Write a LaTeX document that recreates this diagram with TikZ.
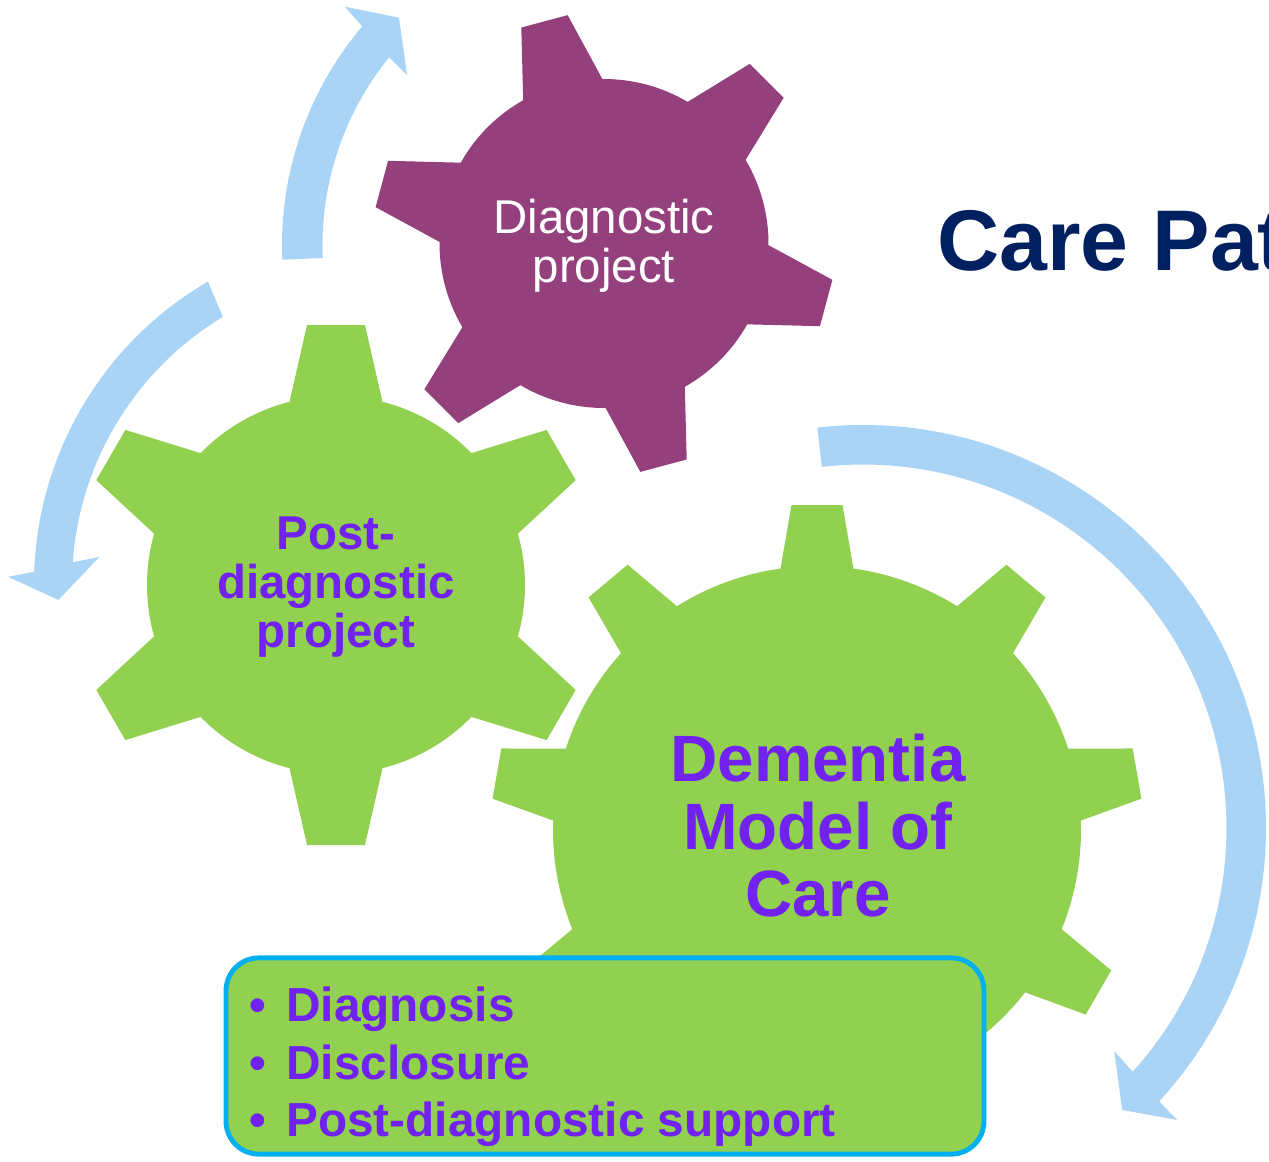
\documentclass[tikz,border=0pt]{standalone}
\usepackage{fontspec}
\setmainfont{Liberation Sans}
\definecolor{gearpurple}{HTML}{93407D}
\definecolor{geargreen}{HTML}{92D050}
\definecolor{arrowblue}{HTML}{A9D4F5}
\definecolor{textviolet}{HTML}{7122F0}
\definecolor{titlenavy}{HTML}{002060}
\definecolor{boxcyan}{HTML}{00B0F0}
% #1 fill, #2 cx, #3 cy, #4 teeth, #5 body radius, #6 tooth length, #7 tip half-width, #8 base half-width, #9 first tooth angle
\newcommand\cogwheel[9]{%
  \begin{scope}[shift={(#2,#3)},yscale=-1]
    \pgfmathsetmacro\cgstep{360/#4}
    \pgfmathsetmacro\cgdb{asin(#8/#5)}
    \pgfmathsetmacro\cgdo{atan(#7/#6)}
    \pgfmathsetmacro\cgro{veclen(#6,#7)}
    \pgfmathtruncatemacro\cglast{#4-1}
    \fill[#1] ({#9-\cgdb}:#5)
      \foreach \i in {0,...,\cglast}{
        -- ({#9+\i*\cgstep-\cgdo}:\cgro)
        -- ({#9+\i*\cgstep+\cgdo}:\cgro)
        -- ({#9+\i*\cgstep+\cgdb}:#5)
        arc[start angle={#9+\i*\cgstep+\cgdb}, end angle={#9+(\i+1)*\cgstep-\cgdb}, radius=#5]
      } -- cycle;
  \end{scope}}
\begin{document}
\begin{tikzpicture}[x=0.02cm,y=-0.02cm,
  gearlabel/.style={align=center, inner sep=0pt, text=textviolet},
  bulletitem/.style={anchor=base west, inner sep=0pt, text=textviolet,
    font=\bfseries\fontsize{27.2}{32.6}\selectfont},
  cyclearrow/.style={fill=arrowblue},
  listbox/.style={draw=boxcyan, line width=2.8pt, fill=geargreen,
    rounded corners=18.7pt}]
\useasboundingbox (0,0) rectangle (1269,1161);
\clip (0,0) rectangle (1269,1161);
\fill[white] (0,0) rectangle (1269,1161);

% cycle arrows
\begin{scope}[shift={(620,245)},yscale=-1]
  \fill[cyclearrow] (182.5:338) arc[start angle=182.5, end angle=139.7, radius=338]
    -- (139.1:364) -- (134.2:317) -- (141.4:272.5) -- (140.9:297.5)
    arc[start angle=140.9, end angle=182.5, radius=297.5] -- cycle;
\end{scope}
\begin{scope}[shift={(384,584)},yscale=-1]
  \fill[cyclearrow] (120.2:350) arc[start angle=120.2, end angle=178, radius=350]
    -- (178.9:376) -- (182.8:326) -- (174.6:286) -- (176:312)
    arc[start angle=176, end angle=121.1, radius=312] -- cycle;
\end{scope}
\begin{scope}[shift={(863,828)},yscale=-1]
  \fill[cyclearrow] (96.5:403) arc[start angle=96.5, end angle=-42.7, radius=403]
    -- (-42.9:429) -- (-47.4:383) -- (-41.6:336) -- (-42.1:363.5)
    arc[start angle=-42.1, end angle=96.5, radius=363.5] -- cycle;
\end{scope}

% gears
\cogwheel{gearpurple}{604}{243.5}{6}{164.5}{230}{24}{41}{105}
\cogwheel{geargreen}{336}{585}{6}{189}{260}{29}{46.5}{90}
\cogwheel{geargreen}{817}{830}{9}{264}{325}{25.5}{36.5}{90}

% list box
\node[listbox, minimum width=431.4pt, minimum height=111.7pt] (box) at (605,1056) {};

% labels
\node[gearlabel, text=white, font=\fontsize{27.0}{28}\selectfont] (diag) at (604,246) {Diagnostic\\project};
\node[gearlabel, font=\bfseries\fontsize{27.0}{27.8}\selectfont] (post) at (336,587) {Post-\\diagnostic\\project};
\node[gearlabel, font=\bfseries\fontsize{37.3}{38.4}\selectfont] (dmc) at (818,826) {Dementia\\Model of\\Care};
\node[anchor=base west, inner sep=0pt, text=titlenavy, font=\bfseries\fontsize{49}{58}\selectfont] (title) at (937,270.7) {Care Pat};

\node[bulletitem] (item1) at (249.5,1021) {•\hspace{11.2pt}Diagnosis};
\node[bulletitem] (item2) at (249.5,1079) {•\hspace{11.2pt}Disclosure};
\node[bulletitem] (item3) at (249.5,1136.5) {•\hspace{11.2pt}Post-diagnostic support};
\end{tikzpicture}
\end{document}
